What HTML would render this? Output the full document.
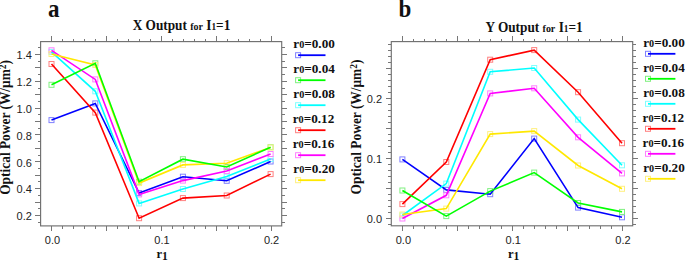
<!DOCTYPE html>
<html><head><meta charset="utf-8"><style>
html,body{margin:0;padding:0;background:#fff;width:685px;height:260px;overflow:hidden}
svg{display:block}
</style></head><body>
<svg width="685" height="260" viewBox="0 0 685 260">
<style>
.tk{stroke:#777;stroke-width:1;shape-rendering:crispEdges}
.fr{fill:none;stroke:#707070;stroke-width:1.15}
.tl{font-family:"Liberation Sans",sans-serif;font-size:11px;fill:#222}
.lg{font-family:"Liberation Serif",serif;font-weight:bold;fill:#111}
.ax{font-family:"Liberation Serif",serif;font-weight:bold;fill:#111}
.tt{font-family:"Liberation Serif",serif;font-weight:bold;fill:#111}
.pl{font-family:"Liberation Serif",serif;font-weight:bold;fill:#111}
</style>
<rect width="685" height="260" fill="#fff"/>
<line x1="51.5" y1="225.9" x2="51.5" y2="231.1" class="tk"/>
<line x1="51.5" y1="41.6" x2="51.5" y2="36.4" class="tk"/>
<line x1="62.5" y1="225.9" x2="62.5" y2="228.9" class="tk"/>
<line x1="62.5" y1="41.6" x2="62.5" y2="38.6" class="tk"/>
<line x1="73.5" y1="225.9" x2="73.5" y2="228.9" class="tk"/>
<line x1="73.5" y1="41.6" x2="73.5" y2="38.6" class="tk"/>
<line x1="84.5" y1="225.9" x2="84.5" y2="228.9" class="tk"/>
<line x1="84.5" y1="41.6" x2="84.5" y2="38.6" class="tk"/>
<line x1="95.5" y1="225.9" x2="95.5" y2="228.9" class="tk"/>
<line x1="95.5" y1="41.6" x2="95.5" y2="38.6" class="tk"/>
<line x1="106.5" y1="225.9" x2="106.5" y2="231.1" class="tk"/>
<line x1="106.5" y1="41.6" x2="106.5" y2="36.4" class="tk"/>
<line x1="117.5" y1="225.9" x2="117.5" y2="228.9" class="tk"/>
<line x1="117.5" y1="41.6" x2="117.5" y2="38.6" class="tk"/>
<line x1="128.5" y1="225.9" x2="128.5" y2="228.9" class="tk"/>
<line x1="128.5" y1="41.6" x2="128.5" y2="38.6" class="tk"/>
<line x1="139.5" y1="225.9" x2="139.5" y2="228.9" class="tk"/>
<line x1="139.5" y1="41.6" x2="139.5" y2="38.6" class="tk"/>
<line x1="150.5" y1="225.9" x2="150.5" y2="228.9" class="tk"/>
<line x1="150.5" y1="41.6" x2="150.5" y2="38.6" class="tk"/>
<line x1="161.5" y1="225.9" x2="161.5" y2="231.1" class="tk"/>
<line x1="161.5" y1="41.6" x2="161.5" y2="36.4" class="tk"/>
<line x1="172.5" y1="225.9" x2="172.5" y2="228.9" class="tk"/>
<line x1="172.5" y1="41.6" x2="172.5" y2="38.6" class="tk"/>
<line x1="183.5" y1="225.9" x2="183.5" y2="228.9" class="tk"/>
<line x1="183.5" y1="41.6" x2="183.5" y2="38.6" class="tk"/>
<line x1="194.5" y1="225.9" x2="194.5" y2="228.9" class="tk"/>
<line x1="194.5" y1="41.6" x2="194.5" y2="38.6" class="tk"/>
<line x1="205.5" y1="225.9" x2="205.5" y2="228.9" class="tk"/>
<line x1="205.5" y1="41.6" x2="205.5" y2="38.6" class="tk"/>
<line x1="216.5" y1="225.9" x2="216.5" y2="231.1" class="tk"/>
<line x1="216.5" y1="41.6" x2="216.5" y2="36.4" class="tk"/>
<line x1="227.5" y1="225.9" x2="227.5" y2="228.9" class="tk"/>
<line x1="227.5" y1="41.6" x2="227.5" y2="38.6" class="tk"/>
<line x1="238.5" y1="225.9" x2="238.5" y2="228.9" class="tk"/>
<line x1="238.5" y1="41.6" x2="238.5" y2="38.6" class="tk"/>
<line x1="249.5" y1="225.9" x2="249.5" y2="228.9" class="tk"/>
<line x1="249.5" y1="41.6" x2="249.5" y2="38.6" class="tk"/>
<line x1="260.5" y1="225.9" x2="260.5" y2="228.9" class="tk"/>
<line x1="260.5" y1="41.6" x2="260.5" y2="38.6" class="tk"/>
<line x1="271.5" y1="225.9" x2="271.5" y2="231.1" class="tk"/>
<line x1="271.5" y1="41.6" x2="271.5" y2="36.4" class="tk"/>
<line x1="40.6" y1="215.5" x2="35.4" y2="215.5" class="tk"/>
<line x1="281.7" y1="215.5" x2="286.9" y2="215.5" class="tk"/>
<line x1="40.6" y1="202.5" x2="35.4" y2="202.5" class="tk"/>
<line x1="281.7" y1="202.5" x2="286.9" y2="202.5" class="tk"/>
<line x1="40.6" y1="188.5" x2="35.4" y2="188.5" class="tk"/>
<line x1="281.7" y1="188.5" x2="286.9" y2="188.5" class="tk"/>
<line x1="40.6" y1="175.5" x2="35.4" y2="175.5" class="tk"/>
<line x1="281.7" y1="175.5" x2="286.9" y2="175.5" class="tk"/>
<line x1="40.6" y1="161.5" x2="35.4" y2="161.5" class="tk"/>
<line x1="281.7" y1="161.5" x2="286.9" y2="161.5" class="tk"/>
<line x1="40.6" y1="148.5" x2="35.4" y2="148.5" class="tk"/>
<line x1="281.7" y1="148.5" x2="286.9" y2="148.5" class="tk"/>
<line x1="40.6" y1="134.5" x2="35.4" y2="134.5" class="tk"/>
<line x1="281.7" y1="134.5" x2="286.9" y2="134.5" class="tk"/>
<line x1="40.6" y1="121.5" x2="35.4" y2="121.5" class="tk"/>
<line x1="281.7" y1="121.5" x2="286.9" y2="121.5" class="tk"/>
<line x1="40.6" y1="108.5" x2="35.4" y2="108.5" class="tk"/>
<line x1="281.7" y1="108.5" x2="286.9" y2="108.5" class="tk"/>
<line x1="40.6" y1="94.5" x2="35.4" y2="94.5" class="tk"/>
<line x1="281.7" y1="94.5" x2="286.9" y2="94.5" class="tk"/>
<line x1="40.6" y1="81.5" x2="35.4" y2="81.5" class="tk"/>
<line x1="281.7" y1="81.5" x2="286.9" y2="81.5" class="tk"/>
<line x1="40.6" y1="67.5" x2="35.4" y2="67.5" class="tk"/>
<line x1="281.7" y1="67.5" x2="286.9" y2="67.5" class="tk"/>
<line x1="40.6" y1="54.5" x2="35.4" y2="54.5" class="tk"/>
<line x1="281.7" y1="54.5" x2="286.9" y2="54.5" class="tk"/>
<line x1="40.6" y1="222.5" x2="37.6" y2="222.5" class="tk"/>
<line x1="281.7" y1="222.5" x2="284.7" y2="222.5" class="tk"/>
<line x1="40.6" y1="208.5" x2="37.6" y2="208.5" class="tk"/>
<line x1="281.7" y1="208.5" x2="284.7" y2="208.5" class="tk"/>
<line x1="40.6" y1="195.5" x2="37.6" y2="195.5" class="tk"/>
<line x1="281.7" y1="195.5" x2="284.7" y2="195.5" class="tk"/>
<line x1="40.6" y1="181.5" x2="37.6" y2="181.5" class="tk"/>
<line x1="281.7" y1="181.5" x2="284.7" y2="181.5" class="tk"/>
<line x1="40.6" y1="168.5" x2="37.6" y2="168.5" class="tk"/>
<line x1="281.7" y1="168.5" x2="284.7" y2="168.5" class="tk"/>
<line x1="40.6" y1="155.5" x2="37.6" y2="155.5" class="tk"/>
<line x1="281.7" y1="155.5" x2="284.7" y2="155.5" class="tk"/>
<line x1="40.6" y1="141.5" x2="37.6" y2="141.5" class="tk"/>
<line x1="281.7" y1="141.5" x2="284.7" y2="141.5" class="tk"/>
<line x1="40.6" y1="128.5" x2="37.6" y2="128.5" class="tk"/>
<line x1="281.7" y1="128.5" x2="284.7" y2="128.5" class="tk"/>
<line x1="40.6" y1="114.5" x2="37.6" y2="114.5" class="tk"/>
<line x1="281.7" y1="114.5" x2="284.7" y2="114.5" class="tk"/>
<line x1="40.6" y1="101.5" x2="37.6" y2="101.5" class="tk"/>
<line x1="281.7" y1="101.5" x2="284.7" y2="101.5" class="tk"/>
<line x1="40.6" y1="88.5" x2="37.6" y2="88.5" class="tk"/>
<line x1="281.7" y1="88.5" x2="284.7" y2="88.5" class="tk"/>
<line x1="40.6" y1="74.5" x2="37.6" y2="74.5" class="tk"/>
<line x1="281.7" y1="74.5" x2="284.7" y2="74.5" class="tk"/>
<line x1="40.6" y1="61.5" x2="37.6" y2="61.5" class="tk"/>
<line x1="281.7" y1="61.5" x2="284.7" y2="61.5" class="tk"/>
<line x1="40.6" y1="47.5" x2="37.6" y2="47.5" class="tk"/>
<line x1="281.7" y1="47.5" x2="284.7" y2="47.5" class="tk"/>
<rect x="40.6" y="41.6" width="241.1" height="184.3" class="fr"/>
<text x="31.9" y="220.2" class="tl" text-anchor="end">0.2</text>
<text x="31.9" y="193.4" class="tl" text-anchor="end">0.4</text>
<text x="31.9" y="166.6" class="tl" text-anchor="end">0.6</text>
<text x="31.9" y="139.8" class="tl" text-anchor="end">0.8</text>
<text x="31.9" y="112.9" class="tl" text-anchor="end">1.0</text>
<text x="31.9" y="86.1" class="tl" text-anchor="end">1.2</text>
<text x="31.9" y="59.3" class="tl" text-anchor="end">1.4</text>
<text x="52.5" y="244.2" class="tl" text-anchor="middle">0.0</text>
<text x="162.0" y="244.2" class="tl" text-anchor="middle">0.1</text>
<text x="271.6" y="244.2" class="tl" text-anchor="middle">0.2</text>
<rect x="49.0" y="117.6" width="5" height="5" fill="none" stroke="#8080ff" stroke-width="1"/>
<rect x="92.8" y="100.9" width="5" height="5" fill="none" stroke="#8080ff" stroke-width="1"/>
<rect x="136.6" y="190.6" width="5" height="5" fill="none" stroke="#8080ff" stroke-width="1"/>
<rect x="180.4" y="174.2" width="5" height="5" fill="none" stroke="#8080ff" stroke-width="1"/>
<rect x="224.2" y="178.3" width="5" height="5" fill="none" stroke="#8080ff" stroke-width="1"/>
<rect x="268.1" y="159.0" width="5" height="5" fill="none" stroke="#8080ff" stroke-width="1"/>
<rect x="49.0" y="82.3" width="5" height="5" fill="none" stroke="#80f080" stroke-width="1"/>
<rect x="92.8" y="60.8" width="5" height="5" fill="none" stroke="#80f080" stroke-width="1"/>
<rect x="136.6" y="179.2" width="5" height="5" fill="none" stroke="#80f080" stroke-width="1"/>
<rect x="180.4" y="156.7" width="5" height="5" fill="none" stroke="#80f080" stroke-width="1"/>
<rect x="224.2" y="164.5" width="5" height="5" fill="none" stroke="#80f080" stroke-width="1"/>
<rect x="268.1" y="144.7" width="5" height="5" fill="none" stroke="#80f080" stroke-width="1"/>
<rect x="49.0" y="49.4" width="5" height="5" fill="none" stroke="#80ffff" stroke-width="1"/>
<rect x="92.8" y="88.8" width="5" height="5" fill="none" stroke="#80ffff" stroke-width="1"/>
<rect x="136.6" y="200.9" width="5" height="5" fill="none" stroke="#80ffff" stroke-width="1"/>
<rect x="180.4" y="186.5" width="5" height="5" fill="none" stroke="#80ffff" stroke-width="1"/>
<rect x="224.2" y="174.0" width="5" height="5" fill="none" stroke="#80ffff" stroke-width="1"/>
<rect x="268.1" y="156.5" width="5" height="5" fill="none" stroke="#80ffff" stroke-width="1"/>
<rect x="49.0" y="61.5" width="5" height="5" fill="none" stroke="#ff8080" stroke-width="1"/>
<rect x="92.8" y="110.1" width="5" height="5" fill="none" stroke="#ff8080" stroke-width="1"/>
<rect x="136.6" y="215.7" width="5" height="5" fill="none" stroke="#ff8080" stroke-width="1"/>
<rect x="180.4" y="195.6" width="5" height="5" fill="none" stroke="#ff8080" stroke-width="1"/>
<rect x="224.2" y="193.0" width="5" height="5" fill="none" stroke="#ff8080" stroke-width="1"/>
<rect x="268.1" y="171.6" width="5" height="5" fill="none" stroke="#ff8080" stroke-width="1"/>
<rect x="49.0" y="47.8" width="5" height="5" fill="none" stroke="#ff80ff" stroke-width="1"/>
<rect x="92.8" y="76.9" width="5" height="5" fill="none" stroke="#ff80ff" stroke-width="1"/>
<rect x="136.6" y="191.9" width="5" height="5" fill="none" stroke="#ff80ff" stroke-width="1"/>
<rect x="180.4" y="178.1" width="5" height="5" fill="none" stroke="#ff80ff" stroke-width="1"/>
<rect x="224.2" y="168.6" width="5" height="5" fill="none" stroke="#ff80ff" stroke-width="1"/>
<rect x="268.1" y="151.5" width="5" height="5" fill="none" stroke="#ff80ff" stroke-width="1"/>
<rect x="49.0" y="51.5" width="5" height="5" fill="none" stroke="#fff080" stroke-width="1"/>
<rect x="92.8" y="62.5" width="5" height="5" fill="none" stroke="#fff080" stroke-width="1"/>
<rect x="136.6" y="180.6" width="5" height="5" fill="none" stroke="#fff080" stroke-width="1"/>
<rect x="180.4" y="162.4" width="5" height="5" fill="none" stroke="#fff080" stroke-width="1"/>
<rect x="224.2" y="160.7" width="5" height="5" fill="none" stroke="#fff080" stroke-width="1"/>
<rect x="268.1" y="145.0" width="5" height="5" fill="none" stroke="#fff080" stroke-width="1"/>
<polyline points="51.5,120.1 95.3,103.4 139.1,193.1 182.9,176.7 226.7,180.8 270.6,161.5" fill="none" stroke="#0000ff" stroke-width="1.6" stroke-linejoin="miter"/>
<polyline points="51.5,64.0 95.3,112.6 139.1,218.2 182.9,198.1 226.7,195.5 270.6,174.1" fill="none" stroke="#ff0000" stroke-width="1.6" stroke-linejoin="miter"/>
<polyline points="51.5,51.9 95.3,91.3 139.1,203.4 182.9,189.0 226.7,176.5 270.6,159.0" fill="none" stroke="#00ffff" stroke-width="1.6" stroke-linejoin="miter"/>
<polyline points="51.5,50.3 95.3,79.4 139.1,194.4 182.9,180.6 226.7,171.1 270.6,154.0" fill="none" stroke="#ff00ff" stroke-width="1.6" stroke-linejoin="miter"/>
<polyline points="51.5,54.0 95.3,65.0 139.1,183.1 182.9,164.9 226.7,163.2 270.6,147.5" fill="none" stroke="#ffe800" stroke-width="1.6" stroke-linejoin="miter"/>
<polyline points="51.5,84.8 95.3,63.3 139.1,181.7 182.9,159.2 226.7,167.0 270.6,147.2" fill="none" stroke="#00ff00" stroke-width="1.6" stroke-linejoin="miter"/>
<text transform="translate(293.3,48.1) scale(1.0526,1)" class="lg" font-size="12.54">r<tspan font-size="9.69">0</tspan>=0.00</text>
<rect x="295.6" y="52.7" width="5" height="5" fill="none" stroke="#8080ff" stroke-width="1"/>
<line x1="298.1" y1="55.2" x2="325.5" y2="55.2" stroke="#0000ff" stroke-width="1.8"/>
<text transform="translate(293.3,73.1) scale(1.0526,1)" class="lg" font-size="12.54">r<tspan font-size="9.69">0</tspan>=0.04</text>
<rect x="295.6" y="77.7" width="5" height="5" fill="none" stroke="#80f080" stroke-width="1"/>
<line x1="298.1" y1="80.2" x2="325.5" y2="80.2" stroke="#00ff00" stroke-width="1.8"/>
<text transform="translate(293.3,98.1) scale(1.0526,1)" class="lg" font-size="12.54">r<tspan font-size="9.69">0</tspan>=0.08</text>
<rect x="295.6" y="102.7" width="5" height="5" fill="none" stroke="#80ffff" stroke-width="1"/>
<line x1="298.1" y1="105.2" x2="325.5" y2="105.2" stroke="#00ffff" stroke-width="1.8"/>
<text transform="translate(292.7,123.1) scale(1.0526,1)" class="lg" font-size="12.54">r<tspan font-size="9.69">0</tspan>=0.12</text>
<rect x="295.6" y="127.7" width="5" height="5" fill="none" stroke="#ff8080" stroke-width="1"/>
<line x1="298.1" y1="130.2" x2="325.5" y2="130.2" stroke="#ff0000" stroke-width="1.8"/>
<text transform="translate(292.7,148.1) scale(1.0526,1)" class="lg" font-size="12.54">r<tspan font-size="9.69">0</tspan>=0.16</text>
<rect x="295.6" y="152.7" width="5" height="5" fill="none" stroke="#ff80ff" stroke-width="1"/>
<line x1="298.1" y1="155.2" x2="325.5" y2="155.2" stroke="#ff00ff" stroke-width="1.8"/>
<text transform="translate(293.3,173.1) scale(1.0526,1)" class="lg" font-size="12.54">r<tspan font-size="9.69">0</tspan>=0.20</text>
<rect x="295.6" y="177.7" width="5" height="5" fill="none" stroke="#fff080" stroke-width="1"/>
<line x1="298.1" y1="180.2" x2="325.5" y2="180.2" stroke="#ffe800" stroke-width="1.8"/>
<text transform="translate(162.2,258) scale(1.0000,1)" class="ax" font-size="12.60" text-anchor="middle">r<tspan font-size="11.60" dy="2.1">1</tspan></text>
<text transform="translate(10.2,127.4) rotate(-90) scale(0.9259,1)" class="ax" font-size="14.47" text-anchor="middle">Optical Power (W/μm<tspan font-size="10.26" dy="-4.6">2</tspan><tspan dy="4.6">)</tspan></text>
<text transform="translate(132.7,30.2) scale(0.9208,1)" class="tt" font-size="14.44">X Output <tspan font-size="10.86">for</tspan> I<tspan font-size="9.99">1</tspan>=1</text>
<line x1="402.5" y1="225.8" x2="402.5" y2="231.0" class="tk"/>
<line x1="402.5" y1="41.6" x2="402.5" y2="36.4" class="tk"/>
<line x1="413.5" y1="225.8" x2="413.5" y2="228.8" class="tk"/>
<line x1="413.5" y1="41.6" x2="413.5" y2="38.6" class="tk"/>
<line x1="424.5" y1="225.8" x2="424.5" y2="228.8" class="tk"/>
<line x1="424.5" y1="41.6" x2="424.5" y2="38.6" class="tk"/>
<line x1="435.5" y1="225.8" x2="435.5" y2="228.8" class="tk"/>
<line x1="435.5" y1="41.6" x2="435.5" y2="38.6" class="tk"/>
<line x1="446.5" y1="225.8" x2="446.5" y2="228.8" class="tk"/>
<line x1="446.5" y1="41.6" x2="446.5" y2="38.6" class="tk"/>
<line x1="457.5" y1="225.8" x2="457.5" y2="231.0" class="tk"/>
<line x1="457.5" y1="41.6" x2="457.5" y2="36.4" class="tk"/>
<line x1="468.5" y1="225.8" x2="468.5" y2="228.8" class="tk"/>
<line x1="468.5" y1="41.6" x2="468.5" y2="38.6" class="tk"/>
<line x1="479.5" y1="225.8" x2="479.5" y2="228.8" class="tk"/>
<line x1="479.5" y1="41.6" x2="479.5" y2="38.6" class="tk"/>
<line x1="490.5" y1="225.8" x2="490.5" y2="228.8" class="tk"/>
<line x1="490.5" y1="41.6" x2="490.5" y2="38.6" class="tk"/>
<line x1="501.5" y1="225.8" x2="501.5" y2="228.8" class="tk"/>
<line x1="501.5" y1="41.6" x2="501.5" y2="38.6" class="tk"/>
<line x1="512.5" y1="225.8" x2="512.5" y2="231.0" class="tk"/>
<line x1="512.5" y1="41.6" x2="512.5" y2="36.4" class="tk"/>
<line x1="523.5" y1="225.8" x2="523.5" y2="228.8" class="tk"/>
<line x1="523.5" y1="41.6" x2="523.5" y2="38.6" class="tk"/>
<line x1="534.5" y1="225.8" x2="534.5" y2="228.8" class="tk"/>
<line x1="534.5" y1="41.6" x2="534.5" y2="38.6" class="tk"/>
<line x1="545.5" y1="225.8" x2="545.5" y2="228.8" class="tk"/>
<line x1="545.5" y1="41.6" x2="545.5" y2="38.6" class="tk"/>
<line x1="556.5" y1="225.8" x2="556.5" y2="228.8" class="tk"/>
<line x1="556.5" y1="41.6" x2="556.5" y2="38.6" class="tk"/>
<line x1="567.5" y1="225.8" x2="567.5" y2="231.0" class="tk"/>
<line x1="567.5" y1="41.6" x2="567.5" y2="36.4" class="tk"/>
<line x1="578.5" y1="225.8" x2="578.5" y2="228.8" class="tk"/>
<line x1="578.5" y1="41.6" x2="578.5" y2="38.6" class="tk"/>
<line x1="589.5" y1="225.8" x2="589.5" y2="228.8" class="tk"/>
<line x1="589.5" y1="41.6" x2="589.5" y2="38.6" class="tk"/>
<line x1="600.5" y1="225.8" x2="600.5" y2="228.8" class="tk"/>
<line x1="600.5" y1="41.6" x2="600.5" y2="38.6" class="tk"/>
<line x1="611.5" y1="225.8" x2="611.5" y2="228.8" class="tk"/>
<line x1="611.5" y1="41.6" x2="611.5" y2="38.6" class="tk"/>
<line x1="622.5" y1="225.8" x2="622.5" y2="231.0" class="tk"/>
<line x1="622.5" y1="41.6" x2="622.5" y2="36.4" class="tk"/>
<line x1="391.3" y1="218.5" x2="386.1" y2="218.5" class="tk"/>
<line x1="632.7" y1="218.5" x2="637.9" y2="218.5" class="tk"/>
<line x1="391.3" y1="188.5" x2="386.1" y2="188.5" class="tk"/>
<line x1="632.7" y1="188.5" x2="637.9" y2="188.5" class="tk"/>
<line x1="391.3" y1="158.5" x2="386.1" y2="158.5" class="tk"/>
<line x1="632.7" y1="158.5" x2="637.9" y2="158.5" class="tk"/>
<line x1="391.3" y1="128.5" x2="386.1" y2="128.5" class="tk"/>
<line x1="632.7" y1="128.5" x2="637.9" y2="128.5" class="tk"/>
<line x1="391.3" y1="98.5" x2="386.1" y2="98.5" class="tk"/>
<line x1="632.7" y1="98.5" x2="637.9" y2="98.5" class="tk"/>
<line x1="391.3" y1="68.5" x2="386.1" y2="68.5" class="tk"/>
<line x1="632.7" y1="68.5" x2="637.9" y2="68.5" class="tk"/>
<line x1="391.3" y1="224.5" x2="388.3" y2="224.5" class="tk"/>
<line x1="632.7" y1="224.5" x2="635.7" y2="224.5" class="tk"/>
<line x1="391.3" y1="212.5" x2="388.3" y2="212.5" class="tk"/>
<line x1="632.7" y1="212.5" x2="635.7" y2="212.5" class="tk"/>
<line x1="391.3" y1="206.5" x2="388.3" y2="206.5" class="tk"/>
<line x1="632.7" y1="206.5" x2="635.7" y2="206.5" class="tk"/>
<line x1="391.3" y1="200.5" x2="388.3" y2="200.5" class="tk"/>
<line x1="632.7" y1="200.5" x2="635.7" y2="200.5" class="tk"/>
<line x1="391.3" y1="194.5" x2="388.3" y2="194.5" class="tk"/>
<line x1="632.7" y1="194.5" x2="635.7" y2="194.5" class="tk"/>
<line x1="391.3" y1="182.5" x2="388.3" y2="182.5" class="tk"/>
<line x1="632.7" y1="182.5" x2="635.7" y2="182.5" class="tk"/>
<line x1="391.3" y1="176.5" x2="388.3" y2="176.5" class="tk"/>
<line x1="632.7" y1="176.5" x2="635.7" y2="176.5" class="tk"/>
<line x1="391.3" y1="170.5" x2="388.3" y2="170.5" class="tk"/>
<line x1="632.7" y1="170.5" x2="635.7" y2="170.5" class="tk"/>
<line x1="391.3" y1="164.5" x2="388.3" y2="164.5" class="tk"/>
<line x1="632.7" y1="164.5" x2="635.7" y2="164.5" class="tk"/>
<line x1="391.3" y1="152.5" x2="388.3" y2="152.5" class="tk"/>
<line x1="632.7" y1="152.5" x2="635.7" y2="152.5" class="tk"/>
<line x1="391.3" y1="146.5" x2="388.3" y2="146.5" class="tk"/>
<line x1="632.7" y1="146.5" x2="635.7" y2="146.5" class="tk"/>
<line x1="391.3" y1="140.5" x2="388.3" y2="140.5" class="tk"/>
<line x1="632.7" y1="140.5" x2="635.7" y2="140.5" class="tk"/>
<line x1="391.3" y1="134.5" x2="388.3" y2="134.5" class="tk"/>
<line x1="632.7" y1="134.5" x2="635.7" y2="134.5" class="tk"/>
<line x1="391.3" y1="122.5" x2="388.3" y2="122.5" class="tk"/>
<line x1="632.7" y1="122.5" x2="635.7" y2="122.5" class="tk"/>
<line x1="391.3" y1="116.5" x2="388.3" y2="116.5" class="tk"/>
<line x1="632.7" y1="116.5" x2="635.7" y2="116.5" class="tk"/>
<line x1="391.3" y1="110.5" x2="388.3" y2="110.5" class="tk"/>
<line x1="632.7" y1="110.5" x2="635.7" y2="110.5" class="tk"/>
<line x1="391.3" y1="104.5" x2="388.3" y2="104.5" class="tk"/>
<line x1="632.7" y1="104.5" x2="635.7" y2="104.5" class="tk"/>
<line x1="391.3" y1="92.5" x2="388.3" y2="92.5" class="tk"/>
<line x1="632.7" y1="92.5" x2="635.7" y2="92.5" class="tk"/>
<line x1="391.3" y1="86.5" x2="388.3" y2="86.5" class="tk"/>
<line x1="632.7" y1="86.5" x2="635.7" y2="86.5" class="tk"/>
<line x1="391.3" y1="80.5" x2="388.3" y2="80.5" class="tk"/>
<line x1="632.7" y1="80.5" x2="635.7" y2="80.5" class="tk"/>
<line x1="391.3" y1="74.5" x2="388.3" y2="74.5" class="tk"/>
<line x1="632.7" y1="74.5" x2="635.7" y2="74.5" class="tk"/>
<line x1="391.3" y1="62.5" x2="388.3" y2="62.5" class="tk"/>
<line x1="632.7" y1="62.5" x2="635.7" y2="62.5" class="tk"/>
<line x1="391.3" y1="56.5" x2="388.3" y2="56.5" class="tk"/>
<line x1="632.7" y1="56.5" x2="635.7" y2="56.5" class="tk"/>
<line x1="391.3" y1="50.5" x2="388.3" y2="50.5" class="tk"/>
<line x1="632.7" y1="50.5" x2="635.7" y2="50.5" class="tk"/>
<line x1="391.3" y1="44.5" x2="388.3" y2="44.5" class="tk"/>
<line x1="632.7" y1="44.5" x2="635.7" y2="44.5" class="tk"/>
<rect x="391.3" y="41.6" width="241.4" height="184.2" class="fr"/>
<text x="382.0" y="222.7" class="tl" text-anchor="end">0.0</text>
<text x="382.0" y="162.7" class="tl" text-anchor="end">0.1</text>
<text x="382.0" y="102.7" class="tl" text-anchor="end">0.2</text>
<text x="403.4" y="244.2" class="tl" text-anchor="middle">0.0</text>
<text x="513.2" y="244.2" class="tl" text-anchor="middle">0.1</text>
<text x="623.0" y="244.2" class="tl" text-anchor="middle">0.2</text>
<rect x="399.9" y="156.9" width="5" height="5" fill="none" stroke="#8080ff" stroke-width="1"/>
<rect x="443.8" y="187.4" width="5" height="5" fill="none" stroke="#8080ff" stroke-width="1"/>
<rect x="487.7" y="191.7" width="5" height="5" fill="none" stroke="#8080ff" stroke-width="1"/>
<rect x="531.7" y="136.1" width="5" height="5" fill="none" stroke="#8080ff" stroke-width="1"/>
<rect x="575.6" y="205.1" width="5" height="5" fill="none" stroke="#8080ff" stroke-width="1"/>
<rect x="619.5" y="214.8" width="5" height="5" fill="none" stroke="#8080ff" stroke-width="1"/>
<rect x="399.9" y="188.0" width="5" height="5" fill="none" stroke="#80f080" stroke-width="1"/>
<rect x="443.8" y="213.6" width="5" height="5" fill="none" stroke="#80f080" stroke-width="1"/>
<rect x="487.7" y="188.6" width="5" height="5" fill="none" stroke="#80f080" stroke-width="1"/>
<rect x="531.7" y="170.1" width="5" height="5" fill="none" stroke="#80f080" stroke-width="1"/>
<rect x="575.6" y="200.5" width="5" height="5" fill="none" stroke="#80f080" stroke-width="1"/>
<rect x="619.5" y="209.4" width="5" height="5" fill="none" stroke="#80f080" stroke-width="1"/>
<rect x="399.9" y="213.0" width="5" height="5" fill="none" stroke="#80ffff" stroke-width="1"/>
<rect x="443.8" y="181.1" width="5" height="5" fill="none" stroke="#80ffff" stroke-width="1"/>
<rect x="487.7" y="69.3" width="5" height="5" fill="none" stroke="#80ffff" stroke-width="1"/>
<rect x="531.7" y="65.5" width="5" height="5" fill="none" stroke="#80ffff" stroke-width="1"/>
<rect x="575.6" y="117.1" width="5" height="5" fill="none" stroke="#80ffff" stroke-width="1"/>
<rect x="619.5" y="162.8" width="5" height="5" fill="none" stroke="#80ffff" stroke-width="1"/>
<rect x="399.9" y="201.6" width="5" height="5" fill="none" stroke="#ff8080" stroke-width="1"/>
<rect x="443.8" y="159.5" width="5" height="5" fill="none" stroke="#ff8080" stroke-width="1"/>
<rect x="487.7" y="57.2" width="5" height="5" fill="none" stroke="#ff8080" stroke-width="1"/>
<rect x="531.7" y="47.6" width="5" height="5" fill="none" stroke="#ff8080" stroke-width="1"/>
<rect x="575.6" y="89.7" width="5" height="5" fill="none" stroke="#ff8080" stroke-width="1"/>
<rect x="619.5" y="140.7" width="5" height="5" fill="none" stroke="#ff8080" stroke-width="1"/>
<rect x="399.9" y="216.0" width="5" height="5" fill="none" stroke="#ff80ff" stroke-width="1"/>
<rect x="443.8" y="192.8" width="5" height="5" fill="none" stroke="#ff80ff" stroke-width="1"/>
<rect x="487.7" y="90.9" width="5" height="5" fill="none" stroke="#ff80ff" stroke-width="1"/>
<rect x="531.7" y="85.8" width="5" height="5" fill="none" stroke="#ff80ff" stroke-width="1"/>
<rect x="575.6" y="134.8" width="5" height="5" fill="none" stroke="#ff80ff" stroke-width="1"/>
<rect x="619.5" y="170.9" width="5" height="5" fill="none" stroke="#ff80ff" stroke-width="1"/>
<rect x="399.9" y="212.0" width="5" height="5" fill="none" stroke="#fff080" stroke-width="1"/>
<rect x="443.8" y="206.1" width="5" height="5" fill="none" stroke="#fff080" stroke-width="1"/>
<rect x="487.7" y="131.6" width="5" height="5" fill="none" stroke="#fff080" stroke-width="1"/>
<rect x="531.7" y="128.6" width="5" height="5" fill="none" stroke="#fff080" stroke-width="1"/>
<rect x="575.6" y="163.0" width="5" height="5" fill="none" stroke="#fff080" stroke-width="1"/>
<rect x="619.5" y="186.3" width="5" height="5" fill="none" stroke="#fff080" stroke-width="1"/>
<polyline points="402.4,159.4 446.3,189.9 490.2,194.2 534.2,138.6 578.1,207.6 622.0,217.3" fill="none" stroke="#0000ff" stroke-width="1.6" stroke-linejoin="miter"/>
<polyline points="402.4,204.1 446.3,162.0 490.2,59.7 534.2,50.1 578.1,92.2 622.0,143.2" fill="none" stroke="#ff0000" stroke-width="1.6" stroke-linejoin="miter"/>
<polyline points="402.4,215.5 446.3,183.6 490.2,71.8 534.2,68.0 578.1,119.6 622.0,165.3" fill="none" stroke="#00ffff" stroke-width="1.6" stroke-linejoin="miter"/>
<polyline points="402.4,218.5 446.3,195.3 490.2,93.4 534.2,88.3 578.1,137.3 622.0,173.4" fill="none" stroke="#ff00ff" stroke-width="1.6" stroke-linejoin="miter"/>
<polyline points="402.4,214.5 446.3,208.6 490.2,134.1 534.2,131.1 578.1,165.5 622.0,188.8" fill="none" stroke="#ffe800" stroke-width="1.6" stroke-linejoin="miter"/>
<polyline points="402.4,190.5 446.3,216.1 490.2,191.1 534.2,172.6 578.1,203.0 622.0,211.9" fill="none" stroke="#00ff00" stroke-width="1.6" stroke-linejoin="miter"/>
<text transform="translate(643.2,47.2) scale(1.0526,1)" class="lg" font-size="12.54">r<tspan font-size="9.69">0</tspan>=0.00</text>
<rect x="645.5" y="51.3" width="5" height="5" fill="none" stroke="#8080ff" stroke-width="1"/>
<line x1="648.0" y1="53.8" x2="675.4" y2="53.8" stroke="#0000ff" stroke-width="1.8"/>
<text transform="translate(643.2,72.2) scale(1.0526,1)" class="lg" font-size="12.54">r<tspan font-size="9.69">0</tspan>=0.04</text>
<rect x="645.5" y="76.3" width="5" height="5" fill="none" stroke="#80f080" stroke-width="1"/>
<line x1="648.0" y1="78.8" x2="675.4" y2="78.8" stroke="#00ff00" stroke-width="1.8"/>
<text transform="translate(643.2,97.2) scale(1.0526,1)" class="lg" font-size="12.54">r<tspan font-size="9.69">0</tspan>=0.08</text>
<rect x="645.5" y="101.3" width="5" height="5" fill="none" stroke="#80ffff" stroke-width="1"/>
<line x1="648.0" y1="103.8" x2="675.4" y2="103.8" stroke="#00ffff" stroke-width="1.8"/>
<text transform="translate(642.6,122.2) scale(1.0526,1)" class="lg" font-size="12.54">r<tspan font-size="9.69">0</tspan>=0.12</text>
<rect x="645.5" y="126.3" width="5" height="5" fill="none" stroke="#ff8080" stroke-width="1"/>
<line x1="648.0" y1="128.8" x2="675.4" y2="128.8" stroke="#ff0000" stroke-width="1.8"/>
<text transform="translate(642.6,147.2) scale(1.0526,1)" class="lg" font-size="12.54">r<tspan font-size="9.69">0</tspan>=0.16</text>
<rect x="645.5" y="151.3" width="5" height="5" fill="none" stroke="#ff80ff" stroke-width="1"/>
<line x1="648.0" y1="153.8" x2="675.4" y2="153.8" stroke="#ff00ff" stroke-width="1.8"/>
<text transform="translate(643.2,172.2) scale(1.0526,1)" class="lg" font-size="12.54">r<tspan font-size="9.69">0</tspan>=0.20</text>
<rect x="645.5" y="176.3" width="5" height="5" fill="none" stroke="#fff080" stroke-width="1"/>
<line x1="648.0" y1="178.8" x2="675.4" y2="178.8" stroke="#ffe800" stroke-width="1.8"/>
<text transform="translate(513.6,258) scale(1.0000,1)" class="ax" font-size="12.60" text-anchor="middle">r<tspan font-size="11.60" dy="2.1">1</tspan></text>
<text transform="translate(361.2,127.0) rotate(-90) scale(0.9259,1)" class="ax" font-size="14.47" text-anchor="middle">Optical Power (W/μm<tspan font-size="10.26" dy="-4.6">2</tspan><tspan dy="4.6">)</tspan></text>
<text transform="translate(485.5,31.7) scale(0.9208,1)" class="tt" font-size="14.44">Y Output <tspan font-size="10.86">for</tspan> I<tspan font-size="9.99">1</tspan>=1</text>
<text transform="translate(48,16.8) scale(0.8929,1)" class="pl" font-size="25.76">a</text>
<text transform="translate(398.5,16.8) scale(0.8929,1)" class="pl" font-size="25.76">b</text>
</svg>
</body></html>
